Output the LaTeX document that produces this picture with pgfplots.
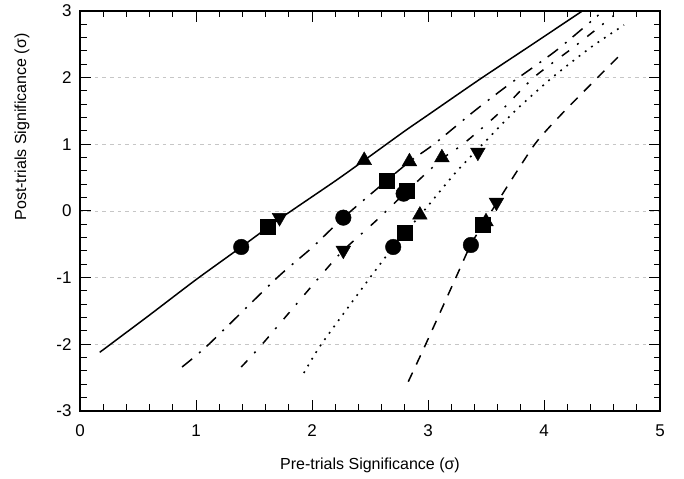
\documentclass[border=0pt]{standalone}
\usepackage{fontspec}
\setmainfont{Liberation Sans}
\usepackage{pgfplots}
\pgfplotsset{compat=1.18}
\begin{document}
\begin{tikzpicture}
\begin{axis}[
  scale only axis, width=580pt, height=400pt,
  xmin=0, xmax=5, ymin=-3, ymax=3,
  xtick={0,1,2,3,4,5}, ytick={-3,-2,-1,0,1,2,3},
  minor x tick num=4, minor y tick num=4,
  tick align=inside, major tick length=11pt, minor tick length=6.5pt,
  tick style={black, line width=1pt},
  axis line style={line width=1.6pt},
  ymajorgrids,
  grid style={gray!45, dash pattern=on 3.5pt off 4pt, line width=0.9pt},
  /pgf/number format/assume math mode=true,
  ticklabel style={font=\fontsize{17}{20}\selectfont},
  xticklabel style={yshift=-10pt},
  yticklabel style={xshift=-5pt},
  label style={font=\fontsize{16}{20}\selectfont},
  xlabel={Pre-trials Significance (σ)},
  ylabel={Post-trials Significance (σ)},
  x label style={at={(axis description cs:0.5,-0.135)}, anchor=center},
  y label style={at={(axis description cs:-0.1,0.71)}, anchor=center},
  clip=false,
]
% solid
\addplot[black, line width=1.5pt, smooth, tension=0.4] coordinates {
 (0.17,-2.12) (0.6,-1.56) (1.0,-1.03) (1.39,-0.54) (1.72,-0.12)
 (2.2,0.45) (2.45,0.76) (2.8,1.20) (3.0,1.44) (3.45,1.98)
 (3.9,2.5) (4.33,3.0)};
% long dash-dot
\addplot[black, line width=1.5pt, smooth, tension=0.4, dash pattern=on 13pt off 9pt on 2pt off 8pt] coordinates {
 (0.88,-2.34) (1.11,-2.0) (1.70,-1.0) (2.0,-0.55) (2.27,-0.1) (2.64,0.45)
 (2.84,0.74) (3.05,1.0) (3.4,1.5) (3.7,1.9) (4.1,2.4) (4.47,2.94)};
% short dash-dot
\addplot[black, line width=1.5pt, smooth, tension=0.4, dash pattern=on 9pt off 10pt on 2pt off 11pt] coordinates {
 (1.39,-2.34) (1.57,-2.0) (2.06,-1.0) (2.27,-0.59) (2.55,-0.15) (2.82,0.30)
 (3.12,0.78) (3.3,1.0) (3.6,1.45) (3.91,2.0) (4.25,2.45) (4.6,2.93)};
% dotted
\addplot[black, line width=1.6pt, smooth, tension=0.4, dash pattern=on 1.8pt off 6pt] coordinates {
 (1.93,-2.43) (2.08,-2.0) (2.50,-1.0) (2.70,-0.54) (2.80,-0.32) (2.93,-0.07)
 (3.23,0.56) (3.47,1.0) (3.75,1.5) (4.07,2.0) (4.4,2.45) (4.69,2.79)};
% dashed
\addplot[black, line width=1.5pt, smooth, tension=0.4, dash pattern=on 10pt off 9pt] coordinates {
 (2.83,-2.56) (2.98,-2.0) (3.24,-1.0) (3.37,-0.5) (3.48,-0.19) (3.6,0.14)
 (3.92,1.0) (4.15,1.45) (4.37,1.84) (4.69,2.40)};
% markers
\addplot[only marks, mark=*, mark size=7.8pt, black, mark options={fill=black}] coordinates {
 (1.39,-0.54) (2.27,-0.10) (2.79,0.26) (2.70,-0.54) (3.37,-0.51)};
\addplot[only marks, mark=square*, mark size=7.5pt, black, mark options={fill=black}] coordinates {
 (1.62,-0.23) (2.64,0.46) (2.82,0.31) (2.80,-0.32) (3.47,-0.20)};
\addplot[only marks, mark=triangle*, mark size=8.5pt, black, mark options={fill=black}] coordinates {
 (2.45,0.76) (2.84,0.74) (3.12,0.80) (2.93,-0.06) (3.50,-0.16)};
\addplot[only marks, mark=triangle*, mark size=8.5pt, black, mark options={fill=black, rotate=180}] coordinates {
 (1.72,-0.10) (2.27,-0.59) (3.43,0.88) (3.59,0.13)};
\end{axis}
\path ([shift={(-80pt,-68pt)}]current axis.south west) rectangle ([shift={(24pt,11pt)}]current axis.north east);
\end{tikzpicture}
\end{document}
